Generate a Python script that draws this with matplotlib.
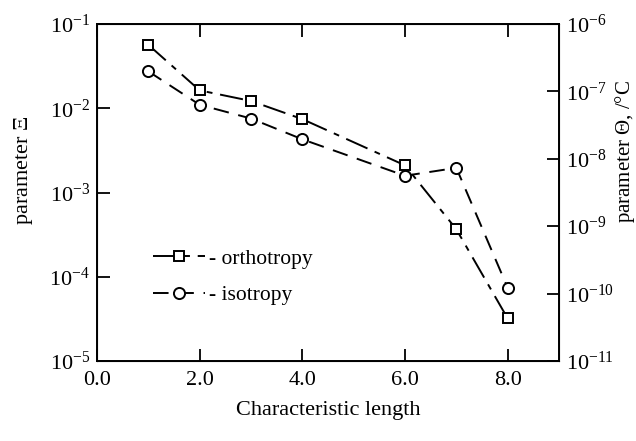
import math

import matplotlib
matplotlib.use('Agg')
from matplotlib import pyplot as plt
from matplotlib.ticker import FixedLocator, FuncFormatter, NullLocator

plt.rcParams['font.family'] = ['Liberation Serif', 'DejaVu Serif']
plt.rcParams['mathtext.fontset'] = 'custom'
plt.rcParams['mathtext.rm'] = 'Liberation Serif'
plt.rcParams['mathtext.it'] = 'Liberation Serif'

# characteristic length vs. parameter values
length = [1, 2, 3, 4, 6, 7, 8]
ortho = [0.0566, 0.0163, 0.0122, 0.00743, 0.0021, 3.66e-4, 3.2e-5]
iso = [0.0274, 0.0110, 0.00755, 0.00428, 0.00158, 0.00196, 7.4e-5]

xticks = [0.0, 2.0, 4.0, 6.0, 8.0]
left_exp = [-5, -4, -3, -2, -1]
right_exp = [-11, -10, -9, -8, -7, -6]


def pow_label(v, pos):
    e = int(round(math.log10(v)))
    return r'$\mathregular{10^{%d}}$' % e


fig = plt.figure(figsize=(6.36, 4.41), dpi=100)
ax = fig.add_axes([97 / 636, 1 - 361 / 441, 462 / 636, 337 / 441])

ax.plot(length, ortho, color='black', lw=1.4, ls=(0, (12, 4, 3, 4)),
        marker='s', ms=7, mfc='white', mec='black', mew=1.4,
        label='- orthotropy')
ax.plot(length, iso, color='black', lw=1.4, ls=(0, (8, 5)),
        marker='o', ms=8, mfc='white', mec='black', mew=1.4,
        label='- isotropy')

ax.set_yscale('log')
ax.set_ylim(1e-5, 1e-1)
ax.set_xlim(0, 9)
ax.xaxis.set_major_locator(FixedLocator(xticks))
ax.xaxis.set_major_formatter(FuncFormatter(lambda v, p: '%.1f' % v))
ax.yaxis.set_major_locator(FixedLocator([10.0 ** e for e in left_exp]))
ax.yaxis.set_major_formatter(FuncFormatter(pow_label))
ax.yaxis.set_minor_locator(NullLocator())
ax.tick_params(axis='both', direction='in', length=9, width=1.3,
               labelsize=16, top=True, pad=5)
ax.tick_params(axis='x', pad=7)
for s in ax.spines.values():
    s.set_linewidth(1.4)

ax.set_xlabel('Characteristic length', fontsize=16, labelpad=8)
ax.set_ylabel('parameter $\\mathregular{\\Xi}$', fontsize=16)
ax.yaxis.set_label_coords(-0.135, 0.567)

ax2 = ax.twinx()
ax2.set_yscale('log')
ax2.set_ylim(1e-11, 1e-6)
ax2.yaxis.set_major_locator(FixedLocator([10.0 ** e for e in right_exp]))
ax2.yaxis.set_major_formatter(FuncFormatter(pow_label))
ax2.yaxis.set_minor_locator(NullLocator())
ax2.tick_params(axis='y', direction='in', length=9, width=1.3,
                labelsize=16, pad=5)
ax2.set_ylabel('parameter $\\mathregular{\\Theta}$, /°C', fontsize=15)
ax2.yaxis.set_label_coords(1.117, 0.623)

ax.legend(loc='upper left', bbox_to_anchor=(0.079, 0.39), frameon=False,
          fontsize=15.5, handlelength=2.4, handletextpad=0.2,
          labelspacing=0.75)

fig.savefig('out.png', dpi=100)
